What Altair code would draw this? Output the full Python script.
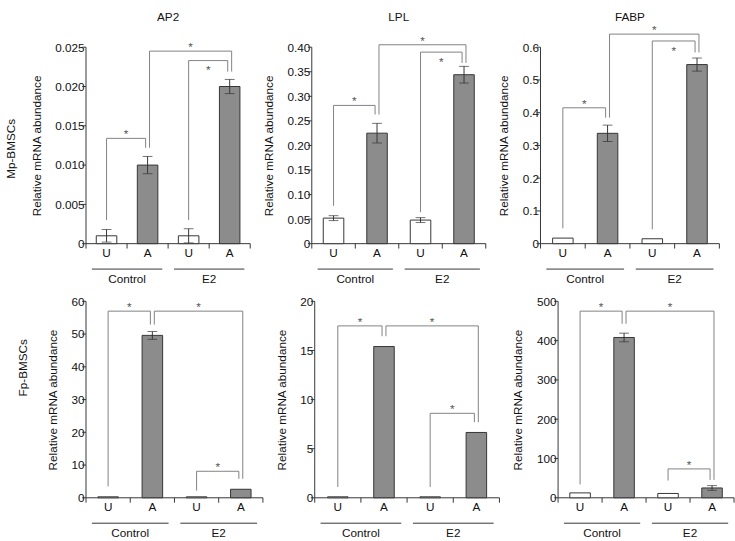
import altair as alt
import pandas as pd

FONT = "Liberation Sans"
INK = "#333333"
BRACKET = "#808080"
BAR_GREY = "#8c8c8c"
Y_TITLE = "Relative mRNA abundance"
H = 201  # plot height of every panel

# ---- categories (bar order inside every panel) ----
keys = ["Control U", "Control A", "E2 U", "E2 A"]
treatments = ["U", "A", "U", "A"]
group_of_key = ["Control", "Control", "E2", "E2"]

# ---- Mp-BMSCs: means and error bars (Control U, Control A, E2 U, E2 A) ----
ap2_mean = [0.001, 0.010, 0.001, 0.020]
ap2_err = [0.0008, 0.0011, 0.0009, 0.0009]
lpl_mean = [0.052, 0.225, 0.048, 0.344]
lpl_err = [0.005, 0.020, 0.005, 0.017]
fabp_mean = [0.017, 0.337, 0.015, 0.547]
fabp_err = [0.0, 0.025, 0.0, 0.020]

# ---- Fp-BMSCs ----
fp_ap2_mean = [0.3, 49.6, 0.3, 2.6]
fp_ap2_err = [0.0, 1.2, 0.0, 0.0]
fp_lpl_mean = [0.1, 15.4, 0.1, 6.65]
fp_lpl_err = [0.0, 0.0, 0.0, 0.0]
fp_fabp_mean = [12.5, 408.0, 11.0, 25.0]
fp_fabp_err = [0.0, 11.0, 0.0, 6.0]

# ---- significance brackets: (left bar, right bar, bracket height,
#      left leg end, right leg end, asterisk side) ----
ap2_brackets = [
    (0, 1, 0.0134, 0.0030, 0.0122, "above"),
    (2, 3, 0.0233, 0.0030, 0.0219, "below"),
    (1, 3, 0.0245, 0.0122, 0.0219, "above"),
]
lpl_brackets = [
    (0, 1, 0.2815, 0.077, 0.263, "above"),
    (2, 3, 0.390, 0.064, 0.368, "below"),
    (1, 3, 0.405, 0.263, 0.368, "above"),
]
fabp_brackets = [
    (0, 1, 0.415, 0.047, 0.385, "above"),
    (2, 3, 0.619, 0.044, 0.584, "below"),
    (1, 3, 0.640, 0.385, 0.584, "above"),
]
fp_ap2_brackets = [
    (0, 1, 57.0, 3.5, 52.9, "above"),
    (2, 3, 8.1, 2.2, 5.8, "above"),
    (1, 3, 57.0, 52.9, 5.8, "above"),
]
fp_lpl_brackets = [
    (0, 1, 17.5, 1.1, 16.45, "above"),
    (2, 3, 8.6, 1.1, 7.7, "above"),
    (1, 3, 17.5, 16.45, 7.7, "above"),
]
fp_fabp_brackets = [
    (0, 1, 475.0, 34.0, 443.0, "above"),
    (2, 3, 73.5, 44.0, 45.6, "above"),
    (1, 3, 475.0, 443.0, 45.6, "above"),
]

# ---- y axes ----
ap2_ticks = [0, 0.005, 0.010, 0.015, 0.020, 0.025]
lpl_ticks = [0, 0.05, 0.10, 0.15, 0.20, 0.25, 0.30, 0.35, 0.40]
fabp_ticks = [0, 0.1, 0.2, 0.3, 0.4, 0.5, 0.6]
fp_ap2_ticks = [0, 10, 20, 30, 40, 50, 60]
fp_lpl_ticks = [0, 5, 10, 15, 20]
fp_fabp_ticks = [0, 100, 200, 300, 400, 500]

LEG_GAP = 2          # px between two bracket legs that meet on one bar
UNDERLINE_INSET = 6  # px the group underline stops short of the group ends
Y_TICK = 4           # y tick length, px
X_TICK = 5           # x tick length, px


def bracket_tables(brackets):
    legs = []
    for b, (i, j, top, end_l, end_r, side) in enumerate(brackets):
        legs.append({"bar": i, "b": b, "top": top, "end": end_l})
        legs.append({"bar": j, "b": b, "top": top, "end": end_r})
    for leg in legs:
        sharing = sorted(l["b"] for l in legs if l["bar"] == leg["bar"])
        shift = 0
        if len(sharing) > 1:
            shift = 1 if leg["b"] == sharing[-1] else -1
        leg["shift"] = shift
        leg["key"] = keys[leg["bar"]]
    tops = []
    for b, (i, j, top, end_l, end_r, side) in enumerate(brackets):
        ls, rs = [leg["shift"] for leg in legs if leg["b"] == b]
        # asterisk sits half way between the two bar centres
        m = (i + j) / 2 + 0.5
        k = int(m) if m != int(m) else int(m) - 1
        tops.append({"lkey": keys[i], "rkey": keys[j], "ls": ls, "rs": rs,
                     "skey": keys[k], "sband": m - k, "top": top, "side": side})
    return pd.DataFrame(legs), pd.DataFrame(tops)


def group_table():
    rows = []
    for g in dict.fromkeys(group_of_key):
        idx = [k for k, gg in enumerate(group_of_key) if gg == g]
        rows.append({"name": g, "first": keys[idx[0]], "last": keys[idx[-1]],
                     "mid": keys[idx[(len(idx) - 1) // 2]]})
    return pd.DataFrame(rows)


def panel(mean, err, brackets, ticks, fmt, width, title=None, row_label=None, row_xy=None):
    df = pd.DataFrame({"key": keys, "treat": treatments, "mean": mean, "err": err})
    df["lo"] = df["mean"] - df["err"]
    df["hi"] = df["mean"] + df["err"]

    band = alt.Scale(domain=keys, paddingInner=0, paddingOuter=0)
    x_axis = alt.Axis(
        title=None, labelAngle=0, labelExpr="split(datum.label, ' ')[1]",
        tickSize=X_TICK, labelPadding=4, labelFontSize=12, labelColor="#111111",
    )

    def xb(field, bp=None):
        kw = {"scale": band, "title": None, "axis": x_axis}
        if bp is not None:
            kw["bandPosition"] = bp
        return alt.X(field, type="nominal", **kw)

    y_scale = alt.Scale(domain=[ticks[0], ticks[-1]], nice=False)
    y_axis = alt.Axis(
        values=ticks, labelExpr=f"datum.value == 0 ? '0' : format(datum.value, '{fmt}')",
        tickSize=Y_TICK, labelPadding=2, labelFontSize=12, titleFontSize=12,
        titleFontWeight="normal", titlePadding=12, labelColor="#111111", titleColor="#111111",
    )

    def yq(field):
        return alt.Y(field, type="quantitative", scale=y_scale, axis=y_axis, title=Y_TITLE)

    base = alt.Chart(df)
    layers = []

    # axis lines and ticks, drawn on the panel's own scales
    tick_df = pd.DataFrame({"v": ticks})
    edge_df = pd.DataFrame({"first": [keys[0]], "last": [keys[-1]], "lo": [ticks[0]], "hi": [ticks[-1]]})
    layers.append(alt.Chart(edge_df).mark_rule(color=INK, strokeWidth=1).encode(
        x=xb("first", 0), y=yq("lo"), y2="hi:Q"))
    layers.append(alt.Chart(edge_df).mark_rule(color=INK, strokeWidth=1).encode(
        x=xb("first", 0), x2=alt.X2("last:N", bandPosition=1), y=yq("lo")))
    layers.append(alt.Chart(tick_df).mark_rule(color=INK, strokeWidth=1, xOffset=-Y_TICK).encode(
        x=xb("first", 0), x2=alt.X2("first:N", bandPosition=0), y=yq("v")).transform_calculate(
        first=f"'{keys[0]}'"))
    bound_df = pd.DataFrame({"k": keys + [keys[-1]], "bp": [0] * len(keys) + [1], "lo": ticks[0]})
    for bp, part in bound_df.groupby("bp"):
        layers.append(alt.Chart(part).mark_rule(color=INK, strokeWidth=1, y2Offset=X_TICK).encode(
            x=xb("k", float(bp)), y=yq("lo"), y2="lo:Q"))

    layers.append(base.mark_bar(size=21, stroke=INK, strokeWidth=1).encode(
        x=xb("key"), y=yq("mean"),
        fill=alt.Fill("treat:N", scale=alt.Scale(domain=["U", "A"], range=["#ffffff", BAR_GREY]), legend=None),
    ))
    with_err = base.transform_filter("datum.err > 0")
    layers.append(with_err.mark_rule(color=INK, strokeWidth=1).encode(x=xb("key"), y=yq("lo"), y2="hi:Q"))
    for end in ("lo", "hi"):
        layers.append(with_err.mark_tick(color=INK, size=10, thickness=1).encode(x=xb("key"), y=yq(end)))

    legs, tops = bracket_tables(brackets)
    for s in sorted(legs["shift"].unique()):
        layers.append(alt.Chart(legs[legs["shift"] == s]).mark_rule(
            color=BRACKET, strokeWidth=1, xOffset=int(s) * LEG_GAP).encode(
            x=xb("key", 0.5), y=yq("end"), y2="top:Q"))
    for (ls, rs), part in tops.groupby(["ls", "rs"]):
        layers.append(alt.Chart(part).mark_rule(
            color=BRACKET, strokeWidth=1, xOffset=int(ls) * LEG_GAP, x2Offset=int(rs) * LEG_GAP).encode(
            x=xb("lkey", 0.5), x2=alt.X2("rkey:N", bandPosition=0.5), y=yq("top")))
    for (bp, side, ls, rs), part in tops.groupby(["sband", "side", "ls", "rs"]):
        layers.append(alt.Chart(part).mark_text(
            text="*", fontSize=12, color="#555555", baseline="middle",
            dy=-4 if side == "above" else 10, dx=(int(ls) + int(rs)) * LEG_GAP / 2).encode(
            x=xb("skey", float(bp)), y=yq("top")))

    groups = group_table()
    layers.append(alt.Chart(groups).mark_rule(
        color=INK, strokeWidth=1, xOffset=UNDERLINE_INSET, x2Offset=-UNDERLINE_INSET).encode(
        x=xb("first", 0), x2=alt.X2("last:N", bandPosition=1), y=alt.value(H + 26)))
    layers.append(alt.Chart(groups).mark_text(fontSize=12, baseline="middle", color="#111111").encode(
        x=xb("mid", 1), y=alt.value(H + 36), text="name:N"))

    if title:
        layers.append(alt.Chart(pd.DataFrame({"t": [title]})).mark_text(
            fontSize=12, baseline="middle", color="#111111").encode(
            x=alt.value(width / 2), y=alt.value(-31), text="t:N"))
    if row_label:
        layers.append(alt.Chart(pd.DataFrame({"t": [row_label]})).mark_text(
            fontSize=12, baseline="middle", angle=270, color="#111111").encode(
            x=alt.value(row_xy[0]), y=alt.value(row_xy[1]), text="t:N"))

    return alt.layer(*layers).properties(width=width, height=H)


top_row = alt.hconcat(
    panel(ap2_mean, ap2_err, ap2_brackets, ap2_ticks, ".3f", 168, "AP2", "Mp-BMSCs", (-77, 104)),
    panel(lpl_mean, lpl_err, lpl_brackets, lpl_ticks, ".2f", 178, "LPL"),
    panel(fabp_mean, fabp_err, fabp_brackets, fabp_ticks, ".1f", 183, "FABP"),
    spacing=11,
)
bottom_row = alt.hconcat(
    panel(fp_ap2_mean, fp_ap2_err, fp_ap2_brackets, fp_ap2_ticks, "d", 181, None, "Fp-BMSCs", (-64, 68)),
    panel(fp_lpl_mean, fp_lpl_err, fp_lpl_brackets, fp_lpl_ticks, "d", 189),
    panel(fp_fabp_mean, fp_fabp_err, fp_fabp_brackets, fp_fabp_ticks, "d", 180),
    spacing=11,
)

chart = alt.vconcat(top_row, bottom_row, spacing=11).properties(
    padding={"left": 5, "top": 5, "right": 0, "bottom": 0},
    background="white",
).configure_view(stroke=None).configure_axis(
    labelFont=FONT, titleFont=FONT, domain=False, ticks=False, grid=False, labelOverlap=False,
).configure_text(font=FONT)

chart.save("out.html", embed_options={"renderer": "svg", "actions": False})
